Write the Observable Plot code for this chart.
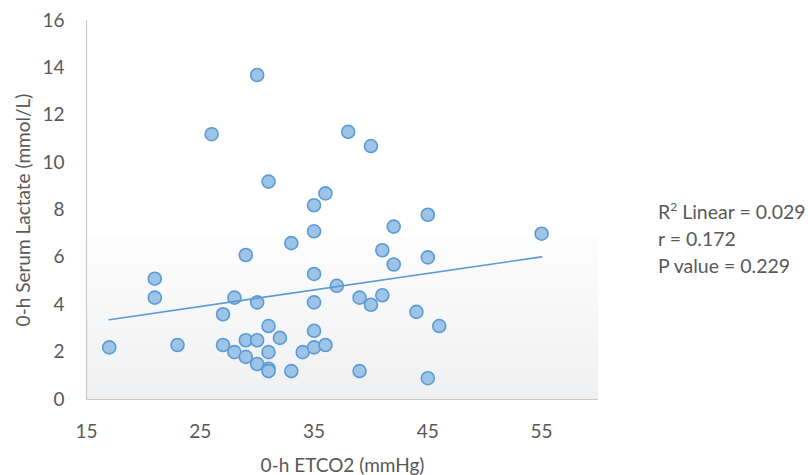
<!DOCTYPE html>
<html><head><meta charset="utf-8">
<script src="https://cdn.jsdelivr.net/npm/d3@7"></script>
<script src="https://cdn.jsdelivr.net/npm/@observablehq/plot@0.6"></script>
<style>
body{margin:0;background:#fff;}
#wrap{position:relative;width:808px;height:475px;font-family:Lato,"Open Sans",sans-serif;}
#note{position:absolute;left:658px;top:198px;font-size:19.5px;color:#595959;line-height:27px;white-space:nowrap;}
#note sup{font-size:12px;line-height:0;position:relative;top:-1px;}
</style></head><body><div id="wrap"><div id="chart"></div>
<div id="note">R<sup>2</sup> Linear = 0.029<br>r = 0.172<br>P value = 0.229</div></div>
<script>
const etco2 = [17, 21, 21, 23, 26, 27, 27, 28, 28, 29, 29, 29, 30, 30, 30, 30, 31, 31, 31, 31, 31, 32, 33, 33, 34, 35, 35, 35, 35, 35, 35, 36, 36, 37, 38, 39, 39, 40, 40, 41, 41, 42, 42, 44, 45, 45, 45, 46, 55];
const lactate = [2.2, 5.1, 4.3, 2.3, 11.2, 3.6, 2.3, 4.3, 2.0, 6.1, 2.5, 1.8, 13.7, 4.1, 2.5, 1.5, 9.2, 3.1, 2.0, 1.3, 1.2, 2.6, 6.6, 1.2, 2.0, 8.2, 7.1, 5.3, 4.1, 2.9, 2.2, 8.7, 2.3, 4.8, 11.3, 4.3, 1.2, 10.7, 4.0, 6.3, 4.4, 7.3, 5.7, 3.7, 7.8, 6.0, 0.9, 3.1, 7.0];
// fitted linear trend line as shown in the figure (end points)
const trendX = [17, 55];
const trendY = [3.37, 6.02];
const xTicks = [15, 25, 35, 45, 55];
const yTicks = [0, 2, 4, 6, 8, 10, 12, 14, 16];
const xDomain = [15, 60];
const yDomain = [0, 16];
const shadeTop = 6.85;

const data = etco2.map((x, i) => ({x, y: lactate[i]}));
const trend = trendX.map((x, i) => ({x, y: trendY[i]}));

const chart = Plot.plot({
  width: 808, height: 475,
  marginLeft: 86, marginRight: 210, marginTop: 20, marginBottom: 76,
  style: {fontFamily: "Lato, 'Open Sans', sans-serif", fontSize: "19px", color: "#595959", background: "transparent"},
  x: {domain: xDomain, ticks: xTicks, tickSize: 0, tickPadding: 25, label: "0-h ETCO2 (mmHg)", labelAnchor: "center", labelArrow: "none", labelOffset: 72},
  y: {domain: yDomain, ticks: yTicks, tickSize: 0, tickPadding: 22, label: "0-h Serum Lactate (mmol/L)", labelAnchor: "center", labelArrow: "none", labelOffset: 70},
  marks: [
    Plot.rect([{}], {x1: xDomain[0], x2: xDomain[1], y1: yDomain[0], y2: shadeTop, fill: "url(#bgGrad)"}),
    Plot.ruleX([xDomain[0]], {stroke: "#c8c8c8", strokeWidth: 1.2}),
    Plot.ruleY([yDomain[0]], {stroke: "#c8c8c8", strokeWidth: 1.2}),
    Plot.dot(data, {x: "x", y: "y", r: 6.5, fill: "#9dc3e6", stroke: "#5b9bd5", strokeWidth: 1.6}),
    Plot.line(trend, {x: "x", y: "y", stroke: "#5b9bd5", strokeWidth: 1.6})
  ]
});
d3.select(chart).insert("defs", ":first-child").html(
  '<linearGradient id="bgGrad" x1="0" y1="0" x2="0" y2="1"><stop offset="0" stop-color="#fdfdfe"/><stop offset="1" stop-color="#eff0f1"/></linearGradient>'
);
document.getElementById("chart").appendChild(chart);
</script></body></html>
